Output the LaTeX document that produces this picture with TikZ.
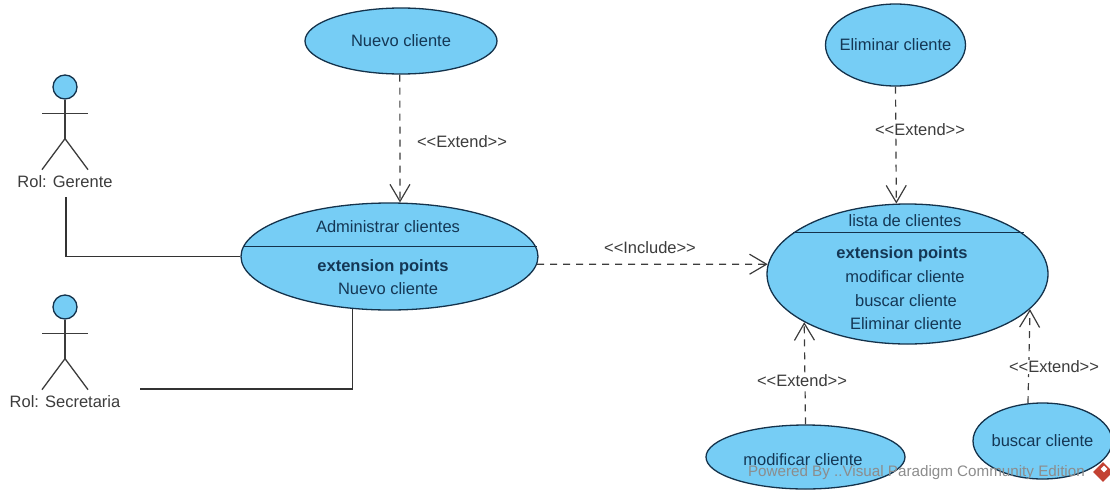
\documentclass[tikz,border=0pt]{standalone}
\usepackage{fontspec}
\setmainfont{Liberation Sans}
\usetikzlibrary{arrows.meta}
\usetikzlibrary{shapes.geometric}

\definecolor{ucfill}{RGB}{118,205,245}
\definecolor{ucline}{RGB}{20,50,75}
\definecolor{uctext}{RGB}{20,55,85}
\definecolor{ucgray}{RGB}{60,60,60}
\definecolor{uclogo}{RGB}{195,65,50}

\begin{document}
\begin{tikzpicture}[x=1pt,y=-1pt,
  usecase/.style={draw=ucline,fill=ucfill,ellipse,line width=1.3pt,inner sep=-10pt,font=\fontsize{16.5}{18}\selectfont,text=uctext},
  casetext/.style={font=\fontsize{16.5}{18}\selectfont,text=uctext,inner sep=0pt},
  extendline/.style={dash pattern=on 7pt off 6pt,ucgray,line width=1.2pt,-{Straight Barb[length=17pt,width=20pt,line width=1.2pt]}},
  lbl/.style={font=\fontsize{16.5}{18}\selectfont,text=ucgray,inner sep=1pt},
  stereo/.style={lbl,fill=white},
  actorline/.style={ucgray,line width=1.3pt},
  assoc/.style={black!80,line width=1.3pt}]

\useasboundingbox (0,0) rectangle (1110,490);

% use cases
\node[usecase,minimum width=192pt,minimum height=66pt] (nuevo) at (401,41) {Nuevo cliente};
\node[usecase,minimum width=140pt,minimum height=82pt] (eliminar) at (895.5,45) {Eliminar cliente};
\node[usecase,minimum width=297pt,minimum height=107pt] (admin) at (389.5,256.5) {};
\node[usecase,minimum width=281pt,minimum height=140pt] (lista) at (907.5,274) {};
\node[usecase,minimum width=199pt,minimum height=64pt] (modificar) at (805.5,457) {};
\node[usecase,minimum width=139pt,minimum height=76pt] (buscar) at (1042.5,441) {buscar cliente};

% compartments
\draw[ucline,line width=1.3pt] (admin.176.3) -- (admin.176.3 -| admin.3.7);
\draw[ucline,line width=1.3pt] (lista.160.8) -- (lista.160.8 -| lista.19.2);
\node[casetext] (admintitle) at (388,227) {Administrar clientes};
\node[casetext] (adminext) at (383,267) {\bfseries extension points};
\node[casetext] (adminpunto) at (388,289) {Nuevo cliente};
\node[casetext] (listatitle) at (905,221) {lista de clientes};
\node[casetext] (listaext) at (902,254) {\bfseries extension points};
\node[casetext] (listamod) at (905,277) {modificar cliente};
\node[casetext] (listabus) at (906,301) {buscar cliente};
\node[casetext] (listaeli) at (906,324) {Eliminar cliente};
\node[casetext] (modtext) at (803,460) {modificar cliente};

% actors
\foreach \name/\hy/\who in {gerente/87/Rol: Gerente,secretaria/307/Rol: Secretaria} {
  \node[draw=ucline,fill=ucfill,circle,line width=1.3pt,minimum size=24pt,inner sep=0pt] (\name) at (65,\hy) {};
  \draw[actorline] (\name.south) -- ++(0,39) coordinate (\name hip);
  \draw[actorline] (\name.south) ++(-23,14) -- ++(46,0);
  \draw[actorline] (\name hip) -- ++(-23,31);
  \draw[actorline] (\name hip) -- ++(23,31);
  \node[lbl] (\name label) at (65,\hy+95) {\who};
}

% associations
\coordinate (gerentefoot) at (66,197);
\coordinate (secretariaend) at (140,389);
\draw[assoc] (gerentefoot) |- (admin.west);
\draw[assoc] (secretariaend) -| (admin.235);

% extends
\draw[extendline] (nuevo.268) -- (admin.79);
\draw[extendline] (eliminar.south) -- (lista.99.8);
\draw[extendline] (admin.-3) -- (lista.176);
\draw[extendline] (modificar.north) -- (lista.205.8);
\draw[extendline] (buscar.111.3) -- (lista.-16.6);

\node[stereo] (ext1) at (462,142) {{<}{<}Extend{>}{>}};
\node[stereo] (ext2) at (920,130) {{<}{<}Extend{>}{>}};
\node[stereo] (inc) at (650,248) {{<}{<}Include{>}{>}};
\node[stereo] (ext3) at (802,381) {{<}{<}Extend{>}{>}};
\node[stereo] (ext4) at (1054,367) {{<}{<}Extend{>}{>}};

% watermark
\node[font=\fontsize{15.2}{17}\selectfont,text=black!45,anchor=east,inner sep=0pt] (mark) at (1085,473) {Powered By ..Visual Paradigm Community Edition};
\node[diamond,fill=uclogo,minimum size=20pt,inner sep=0pt] (logo) at (1103,472) {};
\node[diamond,fill=white,minimum size=7pt,inner sep=0pt] (logomark) at (1104,469) {};

\end{tikzpicture}
\end{document}
